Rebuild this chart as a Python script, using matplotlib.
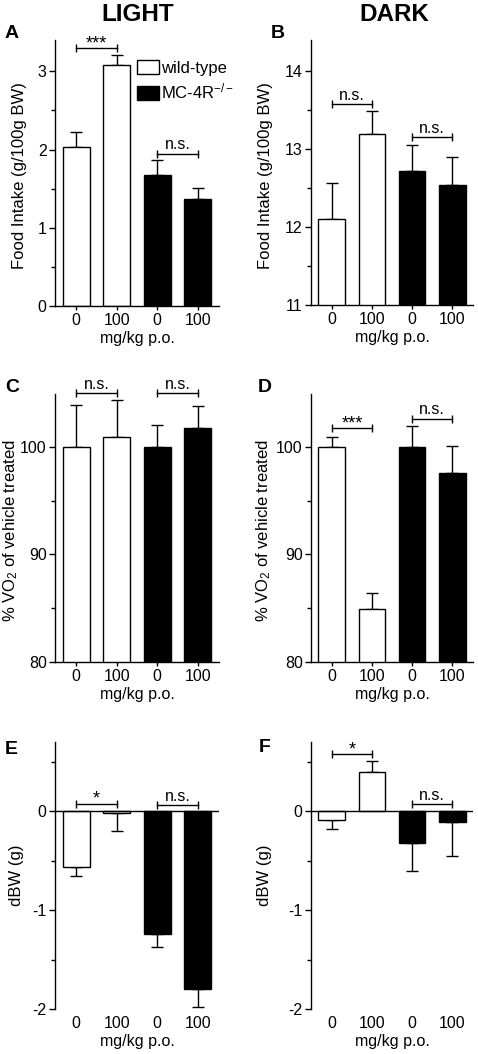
import numpy as np
import matplotlib
matplotlib.use('Agg')
import matplotlib.pyplot as plt
from matplotlib.patches import Patch

plt.rcParams['font.family'] = ['Liberation Sans', 'DejaVu Sans']
plt.rcParams['mathtext.fontset'] = 'custom'
plt.rcParams['mathtext.rm'] = 'Liberation Sans'
plt.rcParams['mathtext.it'] = 'Liberation Sans:italic'
plt.rcParams['mathtext.bf'] = 'Liberation Sans:bold'

# data
dose_labels = ['0', '100', '0', '100']
bar_colors = ['white', 'white', 'black', 'black']
legend_names = ['wild-type', 'MC-4R$^{-/-}$']

food_light = [2.03, 3.08, 1.67, 1.37]
food_light_err = [0.20, 0.13, 0.19, 0.14]
food_dark = [12.10, 13.19, 12.72, 12.54]
food_dark_err = [0.46, 0.30, 0.33, 0.36]
vo2_light = [100.0, 100.9, 100.0, 101.7]
vo2_light_err = [3.9, 3.4, 2.0, 2.1]
vo2_dark = [100.0, 84.9, 100.0, 97.6]
vo2_dark_err = [0.9, 1.5, 1.9, 2.5]
dbw_light = [-0.56, -0.02, -1.24, -1.80]
dbw_light_err = [0.09, 0.18, 0.13, 0.18]
dbw_dark = [-0.09, 0.40, -0.32, -0.11]
dbw_dark_err = [0.09, 0.11, 0.28, 0.34]

# significance: (bar i, bar j, height, label)
sig_a = [(0, 1, 3.30, '***'), (2, 3, 1.945, 'n.s.')]
sig_b = [(0, 1, 13.58, 'n.s.'), (2, 3, 13.15, 'n.s.')]
sig_c = [(0, 1, 105.0, 'n.s.'), (2, 3, 105.0, 'n.s.')]
sig_d = [(0, 1, 101.7, '***'), (2, 3, 102.6, 'n.s.')]
sig_e = [(0, 1, 0.075, '*'), (2, 3, 0.058, 'n.s.')]
sig_f = [(0, 1, 0.58, '*'), (2, 3, 0.068, 'n.s.')]

W, H = 478, 1054
FS = 11.5
fig = plt.figure(figsize=(W / 100, H / 100), dpi=100)


def px_axes(left, top, right, bottom):
    return fig.add_axes([left / W, 1 - bottom / H, (right - left) / W, (bottom - top) / H])


def draw_panel(ax, vals, errs, sigs, ylim, major, minor, ylabel, zero_line=False):
    x = np.arange(len(vals))
    ax.bar(x, vals, width=0.67, color=bar_colors, edgecolor='black', linewidth=1.0, zorder=2)
    vals = np.array(vals)
    errs = np.array(errs)
    lower = np.where(vals < 0, errs, 0)
    upper = np.where(vals >= 0, errs, 0)
    ax.errorbar(x, vals, yerr=[lower, upper], fmt='none', ecolor='black',
                elinewidth=1.0, capsize=4, capthick=1.0, zorder=1)
    for i, j, h, lab in sigs:
        ax.plot([i, j], [h, h], color='black', lw=1.0, marker='|', ms=6, mew=1.0,
                clip_on=False, zorder=3)
        if '*' in lab:
            ax.annotate(lab, ((i + j) / 2, h), xytext=(0, -3), textcoords='offset points',
                        ha='center', va='bottom', fontsize=13, annotation_clip=False)
        else:
            ax.annotate(lab, ((i + j) / 2, h), xytext=(0, 1), textcoords='offset points',
                        ha='center', va='bottom', fontsize=FS, annotation_clip=False)
    ax.set_xlim(-0.52, 3.52)
    ax.set_ylim(*ylim)
    ax.set_yticks(major)
    ax.set_yticks(minor, minor=True)
    ax.set_xticks(x)
    ax.set_xticklabels(dose_labels)
    for s in ['top', 'right']:
        ax.spines[s].set_visible(False)
    ax.spines['left'].set_linewidth(1.0)
    ax.spines['bottom'].set_linewidth(1.0)
    ax.tick_params(axis='y', which='major', length=4, width=1.0, labelsize=FS, pad=2)
    ax.tick_params(axis='y', which='minor', length=3, width=1.0)
    if zero_line:
        ax.spines['bottom'].set_visible(False)
        ax.axhline(0, color='black', lw=1.0, zorder=3)
        ax.tick_params(axis='x', length=0, labelsize=FS, pad=5)
    else:
        ax.tick_params(axis='x', length=3, width=1.0, labelsize=FS, pad=2)
    ax.set_xlabel('mg/kg p.o.', fontsize=FS, labelpad=2)
    ax.set_ylabel(ylabel, fontsize=12, va='center')


axA = px_axes(55, 40, 219, 306)
axB = px_axes(311, 40, 473, 305)
axC = px_axes(55, 394, 219, 662)
axD = px_axes(311, 394, 473, 662)
axE = px_axes(55, 742, 219, 1009)
axF = px_axes(311, 742, 473, 1009)

draw_panel(axA, food_light, food_light_err, sig_a, (0, 3.4), [0, 1, 2, 3],
           np.arange(0.5, 3.4, 1.0), 'Food Intake (g/100g BW)')
draw_panel(axB, food_dark, food_dark_err, sig_b, (11, 14.4), [11, 12, 13, 14],
           np.arange(11.5, 14.4, 1.0), 'Food Intake (g/100g BW)')
draw_panel(axC, vo2_light, vo2_light_err, sig_c, (80, 104.9), [80, 90, 100],
           [85, 95], '% VO$_2$ of vehicle treated')
draw_panel(axD, vo2_dark, vo2_dark_err, sig_d, (80, 104.9), [80, 90, 100],
           [85, 95], '% VO$_2$ of vehicle treated')
draw_panel(axE, dbw_light, dbw_light_err, sig_e, (-2, 0.7), [-2, -1, 0],
           [-1.5, -0.5, 0.5], 'dBW (g)', zero_line=True)
draw_panel(axF, dbw_dark, dbw_dark_err, sig_f, (-2, 0.7), [-2, -1, 0],
           [-1.5, -0.5, 0.5], 'dBW (g)', zero_line=True)

for ax in [axE, axF]:
    ax.set_yticklabels(['-2', '-1', '0'])

# y label positions (axes fraction)
axA.yaxis.set_label_coords(-0.215, 0.49)
axB.yaxis.set_label_coords(-0.28, 0.49)
axC.yaxis.set_label_coords(-0.268, 0.49)
axD.yaxis.set_label_coords(-0.29, 0.49)
axE.yaxis.set_label_coords(-0.235, 0.5)
axF.yaxis.set_label_coords(-0.29, 0.5)

handles = [Patch(facecolor=c, edgecolor='black', linewidth=1.0) for c in ['white', 'black']]
axA.legend(handles, legend_names, loc='upper left', bbox_to_anchor=(0.5, 0.925),
           frameon=False, fontsize=12, handlelength=1.3, handleheight=0.95,
           handletextpad=0.15, labelspacing=0.35, borderpad=0, borderaxespad=0)

fig.text(138 / W, 1 - 14.5 / H, 'LIGHT', ha='center', va='center', fontsize=17.5, fontweight='bold')
fig.text(394 / W, 1 - 14.5 / H, 'DARK', ha='center', va='center', fontsize=17.5, fontweight='bold')

for lab, px, py in [('A', 11.5, 33), ('B', 277.5, 33), ('C', 12, 387),
                    ('D', 265, 388), ('E', 11, 750), ('F', 264.5, 747)]:
    fig.text(px / W, 1 - py / H, lab, ha='center', va='center', fontsize=14, fontweight='bold')

fig.savefig('out.png', dpi=100)
